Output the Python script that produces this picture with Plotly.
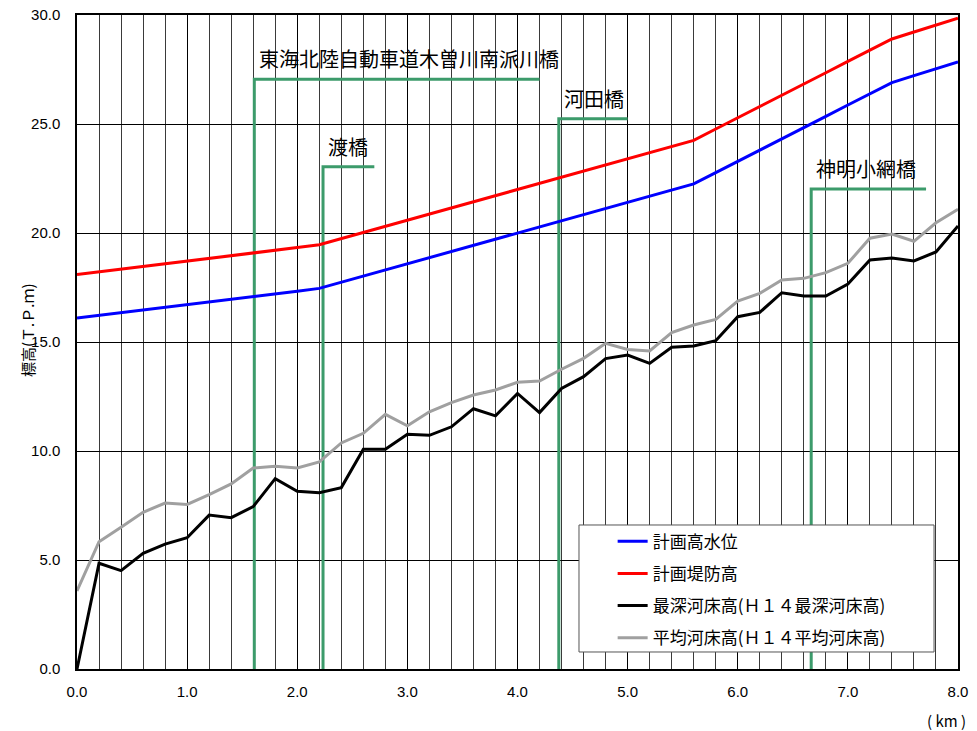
import plotly.graph_objects as go

# distance (km)
km = [0.0, 0.2, 0.4, 0.6, 0.8, 1.0, 1.2, 1.4, 1.6, 1.8, 2.0, 2.2, 2.4, 2.6, 2.8, 3.0,
      3.2, 3.4, 3.6, 3.8, 4.0, 4.2, 4.4, 4.6, 4.8, 5.0, 5.2, 5.4, 5.6, 5.8, 6.0,
      6.2, 6.4, 6.6, 6.8, 7.0, 7.2, 7.4, 7.6, 7.8, 8.0]

# 計画高水位
hwl = [16.10, 16.22, 16.34, 16.47, 16.59, 16.71, 16.84, 16.96, 17.08, 17.21, 17.33,
       17.46, 17.74, 18.02, 18.31, 18.59, 18.87, 19.15, 19.43, 19.72, 20.00,
       20.28, 20.56, 20.85, 21.13, 21.41, 21.69, 21.97, 22.25, 22.77, 23.28,
       23.80, 24.32, 24.83, 25.35, 25.87, 26.38, 26.90, 27.22, 27.53, 27.85]

# 計画堤防高
levee = [18.10, 18.22, 18.34, 18.47, 18.59, 18.71, 18.84, 18.96, 19.08, 19.21, 19.33,
         19.46, 19.74, 20.02, 20.31, 20.59, 20.87, 21.15, 21.43, 21.72, 22.00,
         22.28, 22.56, 22.85, 23.13, 23.41, 23.69, 23.97, 24.25, 24.77, 25.28,
         25.80, 26.32, 26.83, 27.35, 27.87, 28.38, 28.90, 29.22, 29.53, 29.85]

# 最深河床高（Ｈ１４最深河床高）
deepest = [0.00, 4.85, 4.51, 5.31, 5.73, 6.02, 7.06, 6.94, 7.45, 8.73, 8.15,
           8.09, 8.32, 10.08, 10.08, 10.77, 10.72, 11.11, 11.94, 11.61, 12.64,
           11.76, 12.87, 13.41, 14.24, 14.40, 14.02, 14.76, 14.82, 15.06, 16.16,
           16.36, 17.26, 17.11, 17.11, 17.66, 18.76, 18.85, 18.72, 19.13, 20.32]

# 平均河床高（Ｈ１４平均河床高）
average = [3.58, 5.84, 6.50, 7.19, 7.61, 7.55, 8.00, 8.49, 9.22, 9.30, 9.22,
           9.50, 10.37, 10.81, 11.68, 11.16, 11.80, 12.22, 12.57, 12.80, 13.15,
           13.21, 13.75, 14.25, 14.94, 14.66, 14.59, 15.43, 15.78, 16.04, 16.88,
           17.23, 17.84, 17.92, 18.18, 18.61, 19.76, 19.95, 19.62, 20.47, 21.09]

# bridges
bridge_names = ["東海北陸自動車道木曽川南派川橋", "渡橋", "河田橋", "神明小網橋"]
bridge_km = [1.61, 2.234, 4.375, 6.667]
bridge_top = [27.05, 23.04, 25.24, 22.02]
bridge_end = [4.20, 2.70, 5.00, 7.71]

series_names = ["計画高水位", "計画堤防高",
                "最深河床高(Ｈ１４最深河床高)", "平均河床高(Ｈ１４平均河床高)"]
series_values = [hwl, levee, deepest, average]
series_colors = ["#0000FF", "#FF0000", "#000000", "#A0A0A0"]

GREEN = "#3C9B6B"
CJK = "Noto Sans CJK JP"
NUM = "Liberation Sans"

fig = go.Figure()

for name, bx, bt, be in zip(bridge_names, bridge_km, bridge_top, bridge_end):
    fig.add_trace(go.Scatter(
        x=[bx, bx, be], y=[0, bt, bt], mode="lines",
        line=dict(color=GREEN, width=3), showlegend=False, hoverinfo="skip"))
    fig.add_annotation(x=bx, y=bt, text=name, showarrow=False,
                       xanchor="left", yanchor="bottom", xshift=3, yshift=4,
                       font=dict(family=CJK, size=20, color="#000000"))

for i, (name, vals, col) in enumerate(zip(series_names, series_values, series_colors)):
    fig.add_trace(go.Scatter(
        x=km, y=vals, mode="lines", name=name,
        line=dict(color=col, width=3), legendgroup=f"g{i}"))

# legend frame (white box hiding the grid/lines behind the legend)
fig.add_shape(type="rect", xref="paper", yref="paper",
              x0=0.5698, x1=0.9728, y0=0.026, y1=0.2202,
              fillcolor="white", line=dict(color="#555555", width=1),
              layer="above")

fig.add_annotation(xref="paper", yref="paper", x=-0.057, y=0.518,
                   xanchor="center", yanchor="middle",
                   text="標高(Ｔ.Ｐ.ｍ)", textangle=-90, showarrow=False,
                   font=dict(family=CJK, size=15, color="#000000"))
fig.add_annotation(xref="paper", yref="paper", x=1.011, y=-0.078,
                   xanchor="right", yanchor="middle",
                   text="( km )", showarrow=False,
                   font=dict(family=CJK, size=15, color="#000000"))

fig.update_layout(
    width=977, height=731,
    margin=dict(l=77, r=19, t=15, b=62, autoexpand=False),
    paper_bgcolor="white", plot_bgcolor="white",
    font=dict(family=NUM, size=15, color="#000000"),
    showlegend=True,
    legend=dict(
        x=0.608, y=0.222, xanchor="left", yanchor="top",
        bgcolor="rgba(0,0,0,0)", borderwidth=0,
        font=dict(family=CJK, size=17, color="#000000"),
        tracegroupgap=7, itemwidth=30,
    ),
    xaxis=dict(
        range=[0, 8], dtick=1, tickformat=".1f", automargin=False,
        showline=True, linecolor="#000000", linewidth=1.5, mirror=True,
        showgrid=True, gridcolor="#000000", gridwidth=1,
        minor=dict(dtick=0.2, showgrid=True, gridcolor="#3a3a3a", gridwidth=1),
        zeroline=False, ticks="", ticklabelstandoff=8,
        tickfont=dict(family=NUM, size=15),
    ),
    yaxis=dict(
        range=[0, 30], dtick=5, tickformat=".1f", automargin=False,
        showline=True, linecolor="#000000", linewidth=1.5, mirror=True,
        showgrid=True, gridcolor="#000000", gridwidth=1,
        zeroline=False, ticks="", ticklabelstandoff=12,
        tickfont=dict(family=NUM, size=15),
    ),
)

fig.write_html("out.html", config={"displayModeBar": False},
               post_script="document.body.style.margin='0';")
